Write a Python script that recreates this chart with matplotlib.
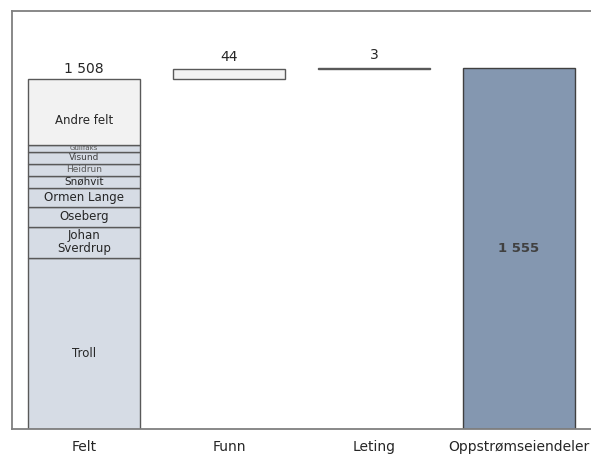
import matplotlib
matplotlib.use("Agg")
import matplotlib.pyplot as plt

# Categories and totals
categories = ["Felt", "Funn", "Leting", "Oppstrømseiendeler"]
funn_value = 44
leting_value = 3

# Breakdown of the "Felt" bar (bottom to top)
field_names = ["Troll", "Johan\nSverdrup", "Oseberg", "Ormen Lange", "Snøhvit",
               "Heidrun", "Visund", "Gullfaks", "Andre felt"]
field_values = [736, 136, 82, 84, 50, 55, 50, 31, 284]

# Label styling per segment
field_fontsizes = [8.5, 8.5, 8.5, 8.5, 7.5, 6.5, 6.5, 5, 8.5]
field_textcolors = ["#262626", "#262626", "#262626", "#262626", "#262626",
                    "#595959", "#404040", "#595959", "#262626"]
label_anchor = [0.44, 0.5, 0.5, 0.5, 0.5, 0.5, 0.5, 0.5, 0.37]

felt_total = sum(field_values)
upstream_total = felt_total + funn_value + leting_value

def fmt(v):
    return f"{v:,}".replace(",", " ")

fig = plt.figure(figsize=(5.91, 4.55), dpi=100)
ax = fig.add_axes([11.5 / 591, 26 / 455, 580 / 591, 418 / 455])

width = 0.772
edge = "#595959"

# Stacked "Felt" bar
bottom = 0
for name, val, fs, tc, anc in zip(field_names, field_values, field_fontsizes,
                                  field_textcolors, label_anchor):
    face = "#f2f2f2" if name == "Andre felt" else "#d6dce5"
    ax.bar(0, val, bottom=bottom, width=width, color=face, edgecolor=edge, linewidth=1.0)
    ax.text(0, bottom + val * anc, name, ha="center", va="center", fontsize=fs,
            color=tc, linespacing=1.0)
    bottom += val
ax.text(0, felt_total + 14, fmt(felt_total), ha="center", va="bottom", fontsize=10, color="#262626")

# Waterfall steps
ax.bar(1, funn_value, bottom=felt_total, width=width, color="#f2f2f2", edgecolor=edge, linewidth=1.0)
ax.text(1, felt_total + funn_value + 20, fmt(funn_value), ha="center", va="bottom",
        fontsize=10, color="#262626")

ax.bar(2, leting_value, bottom=felt_total + funn_value, width=width, color="#595959",
       edgecolor=edge, linewidth=1.0)
ax.text(2, felt_total + funn_value + leting_value + 24, fmt(leting_value), ha="center",
        va="bottom", fontsize=10, color="#262626")

# Total
ax.bar(3, upstream_total, width=width, color="#8497b0", edgecolor="#404040", linewidth=1.0)
ax.text(3, upstream_total * 0.5, fmt(upstream_total), ha="center", va="center",
        fontsize=9.5, fontweight="bold", color="#404040")

ax.set_xlim(-0.5, 3.5)
ax.set_ylim(0, 1800)
ax.set_yticks([])
ax.set_xticks(range(len(categories)))
ax.set_xticklabels(categories, fontsize=10, color="#262626")
ax.tick_params(axis="x", length=0, pad=8)
for side in ["left", "top", "bottom", "right"]:
    ax.spines[side].set_color("#7f7f7f")
    ax.spines[side].set_linewidth(1.3)

fig.savefig("out.png", dpi=100)
